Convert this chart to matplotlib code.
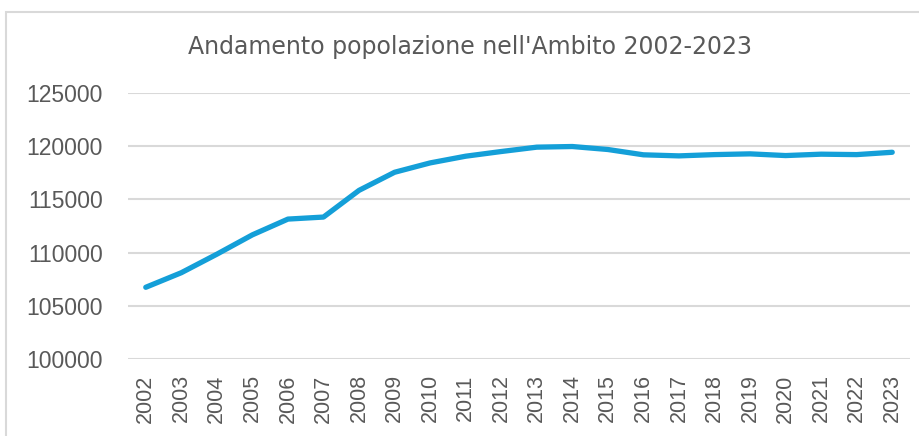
import matplotlib.pyplot as plt
from matplotlib.patches import Rectangle

years = [str(y) for y in range(2002, 2024)]
population = [106740, 108110, 109850, 111670, 113150, 113340, 115850, 117550,
              118430, 119060, 119500, 119910, 119970, 119690, 119190, 119090,
              119210, 119280, 119120, 119250, 119210, 119430]
y_ticks = [100000, 105000, 110000, 115000, 120000, 125000]

text_color = "#595959"
line_color = "#149fd8"
grid_color = "#d9d9d9"

fig = plt.figure(figsize=(9.19, 4.36), dpi=100)
W, H = 919, 436

# chart frame (cropped on the right and bottom)
fig.patches.append(Rectangle((6 / W, -0.1), 1.2, 1 - 12 / H + 0.1,
                             transform=fig.transFigure, fill=False,
                             edgecolor=grid_color, linewidth=1.5))

ax = fig.add_axes([128 / W, 1 - 359 / H, (910 - 128) / W, (359 - 93) / H])
x = list(range(len(years)))
ax.plot(x, population, color=line_color, linewidth=3.8,
        solid_capstyle="round", solid_joinstyle="round", zorder=3)

ax.set_xlim(-0.5, len(years) - 0.5)
ax.set_ylim(y_ticks[0], y_ticks[-1])
ax.set_yticks(y_ticks)
ax.set_yticklabels([str(v) for v in y_ticks], family="Liberation Sans", fontsize=16.5)
ax.set_xticks(x)
ax.set_xticklabels(years, rotation=90, family="Liberation Sans", fontsize=15.5)
ax.grid(axis="y", color=grid_color, linewidth=1.5)
ax.set_axisbelow(True)
for s in ax.spines.values():
    s.set_visible(False)
ax.tick_params(length=0, labelcolor=text_color)
ax.tick_params(axis="y", pad=18)
ax.tick_params(axis="x", pad=11)

fig.text(470 / W, 1 - 47 / H, "Andamento popolazione nell'Ambito 2002-2023",
         ha="center", va="center", fontsize=17, color=text_color)

fig.savefig("out.png", dpi=100)
